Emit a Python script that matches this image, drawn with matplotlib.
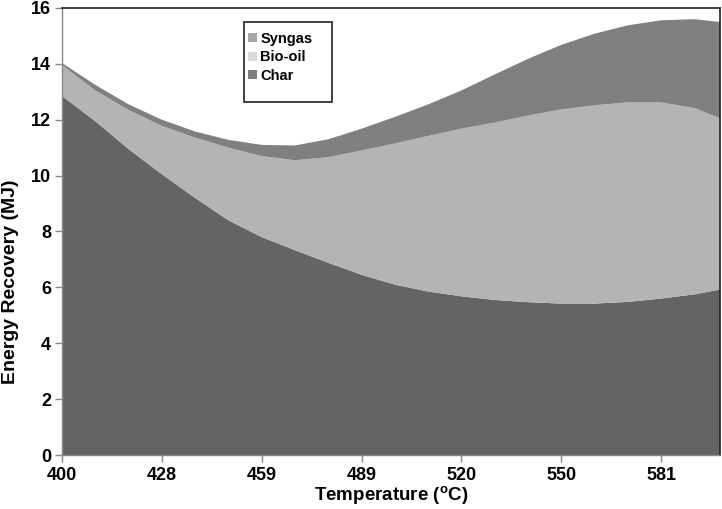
import matplotlib
matplotlib.use("Agg")
import matplotlib.pyplot as plt
from matplotlib.patches import Patch, Rectangle

plt.rcParams['font.family'] = ['Liberation Sans', 'DejaVu Sans']
plt.rcParams['font.weight'] = 'bold'

# category positions (index along the category axis) at which values were read
pos = [0, 0.333, 0.667, 1, 1.333, 1.667, 2, 2.333, 2.667, 3, 3.333, 3.667,
       4, 4.333, 4.667, 5, 5.333, 5.667, 6, 6.333, 6.59]
tick_labels = ['400', '428', '459', '489', '520', '550', '581']

char_top = [12.85, 11.95, 10.95, 10.05, 9.2, 8.4, 7.8, 7.33, 6.88, 6.45, 6.1, 5.85,
            5.68, 5.55, 5.47, 5.42, 5.42, 5.48, 5.6, 5.75, 5.92]
biooil_top = [13.96, 13.05, 12.35, 11.78, 11.36, 11.0, 10.7, 10.55, 10.66, 10.9, 11.15, 11.42,
              11.68, 11.9, 12.15, 12.37, 12.52, 12.62, 12.62, 12.42, 12.05]
total_top = [14.03, 13.25, 12.55, 12.0, 11.58, 11.28, 11.1, 11.08, 11.3, 11.68, 12.1, 12.55,
             13.05, 13.62, 14.18, 14.68, 15.08, 15.38, 15.56, 15.6, 15.5]

char = char_top
biooil = [b - c for b, c in zip(biooil_top, char_top)]
syngas = [t - b for t, b in zip(total_top, biooil_top)]

fig = plt.figure(figsize=(7.22, 5.09), dpi=100)
ax = fig.add_axes([62/722, 54/509, (720-62)/722, (455-8)/509])

ax.stackplot(pos, char, biooil, syngas,
             colors=['#646464', '#b4b4b4', '#808080'], linewidth=0)

ax.set_xlim(0, 6.59)
ax.set_ylim(0, 16)
ax.set_xticks(range(len(tick_labels)))
ax.set_xticklabels(tick_labels)
ax.set_yticks(range(0, 17, 2))
ax.tick_params(axis='both', labelsize=13, colors='#888888', length=5, width=1,
               labelcolor='black', direction='out')
for lab in ax.get_xticklabels() + ax.get_yticklabels():
    lab.set_fontweight('bold')
ax.tick_params(axis='x', pad=4)
ax.tick_params(axis='y', pad=3)

for side in ['top', 'right']:
    ax.spines[side].set_color('#222222')
    ax.spines[side].set_linewidth(1.2)
for side in ['left', 'bottom']:
    ax.spines[side].set_color('#888888')
    ax.spines[side].set_linewidth(1)

ax.set_xlabel('Temperature ($\\mathregular{^{o}}$C)', fontsize=13.5, fontweight='bold', labelpad=0)
ax.set_ylabel('Energy Recovery (MJ)', fontsize=14, fontweight='bold')
ax.yaxis.set_label_coords(-0.066, (455 - 282) / 447)

# legend frame
fig.patches.append(Rectangle((244/722, 1 - 102/509), (332-244)/722, (102-22)/509,
                             transform=fig.transFigure, facecolor='white',
                             edgecolor='#222222', linewidth=1.2, zorder=5))
handles = [Patch(facecolor='#a6a6a6', edgecolor='none', label='Syngas'),
           Patch(facecolor='#d9d9d9', edgecolor='none', label='Bio-oil'),
           Patch(facecolor='#7f7f7f', edgecolor='none', label='Char')]
leg = fig.legend(handles=handles, loc='upper left',
                 bbox_to_anchor=(248/722, 1 - 32/509), frameon=False,
                 prop={'size': 10.5, 'weight': 'bold'}, handlelength=0.6,
                 handleheight=0.6, handletextpad=0.25, labelspacing=0.3,
                 borderpad=0, borderaxespad=0)
leg.set_zorder(6)

fig.savefig('out.png', dpi=100)
